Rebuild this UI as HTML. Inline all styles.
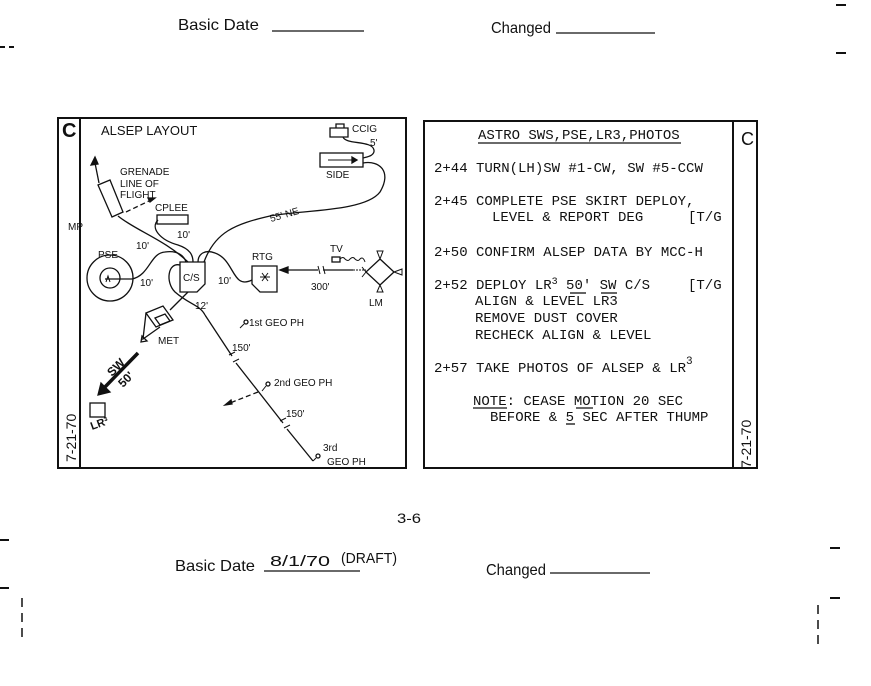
<!DOCTYPE html>
<html><head><meta charset="utf-8"><style>
html,body{margin:0;padding:0;background:#fff;}
svg{display:block}
.s{font-family:"Liberation Sans",sans-serif;fill:#111}
.m{font-family:"Liberation Mono",monospace;fill:#111;font-size:14px}
.n{font-family:"Liberation Sans",sans-serif;fill:#111}
</style></head><body>
<svg width="871" height="686" viewBox="0 0 871 686" xmlns="http://www.w3.org/2000/svg">
<g stroke="#111" fill="none" stroke-width="1.3">
<line x1="272" y1="31" x2="364" y2="31"/>
<line x1="556" y1="33" x2="655" y2="33"/>
<line x1="0" y1="47" x2="16" y2="47" stroke-width="2" stroke-dasharray="5 4"/>
<line x1="836" y1="53" x2="846" y2="53" stroke-width="2"/>
<line x1="836" y1="5" x2="846" y2="5" stroke-width="2"/>
<line x1="264" y1="571" x2="360" y2="571"/>
<line x1="550" y1="573" x2="650" y2="573"/>
<line x1="0" y1="540" x2="9" y2="540" stroke-width="2"/>
<line x1="0" y1="588" x2="9" y2="588" stroke-width="2"/>
<line x1="22" y1="598" x2="22" y2="640" stroke-width="1.5" stroke-dasharray="9 6"/>
<line x1="830" y1="548" x2="840" y2="548" stroke-width="2"/>
<line x1="830" y1="598" x2="840" y2="598" stroke-width="2"/>
<line x1="818" y1="605" x2="818" y2="648" stroke-width="1.5" stroke-dasharray="9 6"/>

<rect x="58" y="118" width="348" height="350" stroke-width="2"/>
<line x1="80" y1="118" x2="80" y2="468" stroke-width="2"/>
<rect x="424" y="121" width="333" height="347" stroke-width="2"/>
<line x1="733" y1="121" x2="733" y2="468" stroke-width="2"/>

<path d="M332 128h16v9h-18v-9h2zm4 0v-4h8v4"/>
<path d="M343 137 C346 145,372 140,374 150 C375 156,366 157,363 158"/>
<rect x="320" y="153" width="43" height="14"/>
<path d="M328 160h24" stroke-width="1"/><path d="M352 157l5 3-5 3z" fill="#111"/>
<path d="M363 163 C380 160,392 172,380 192 C365 212,300 210,270 216 C235 224,215 232,204 262"/>
<path d="M180 262h25v22l-8 8h-17z"/>
<path d="M98 185l12-5 13 32-11 5z"/>
<path d="M99 183l-4-20"/><path d="M95 157l-4 8 7-1z" fill="#111"/>
<path d="M126 212l25-12" stroke-dasharray="5 3"/><path d="M155 198l-7 0 2 4z" fill="#111"/>
<path d="M118 216 C135 230,165 240,188 262"/>
<rect x="157" y="215" width="31" height="9"/>
<path d="M158 220 C150 228,160 240,178 245 C190 249,193 255,193 262"/>
<circle cx="110" cy="278" r="23"/><circle cx="110" cy="278" r="10"/>
<path d="M105 279h27"/><path d="M106 282l2-6 2 6" stroke-width="1"/>
<path d="M132 279 C150 275,150 253,165 252 C178 250,184 256,186 262"/>
<path d="M198 262 C198 254,205 249,215 253 C235 260,232 290,252 280"/>
<path d="M180 265 C168 262,165 282,175 292 C190 305,200 305,205 315"/>
<path d="M252 266h25v26h-17l-8-8z"/>
<path d="M262 273l6 8m0-8l-6 8m-2-4h10" stroke-width="1"/>
<path d="M280 270h38m5 0h30" />
<path d="M318 266l2 8m3-8l2 8" stroke-width="1"/>
<path d="M280 270l8-3v6z" fill="#111"/>
<path d="M380 259l14 13-14 13-14-13z"/>
<path d="M380 259l-3-8h6z M394 272l8-3v6z M380 285l-3 7h6z" stroke-width="1"/>
<path d="M366 272l-4-5m4 5l-4 5" stroke-width="1"/>
<path d="M353 270h13" stroke-dasharray="2 1" stroke-width="1"/>
<rect x="332" y="257" width="8" height="5"/>
<path d="M340 259 q3-3 5 0 q3 3 5 0 q3-3 5 0 q3 3 5 0 q3-3 5 3" stroke-width="1"/>
<path d="M188 292 L170 310"/>
<path d="M146 313l17-7 10 14-17 7z"/>
<path d="M155 318l10-4 5 7-10 4z"/>
<path d="M146 313l-3 26 17-12"/>
<path d="M142 336l5 5-6 1z"/>
<path d="M138 353L104 388" stroke-width="3.5"/>
<path d="M98 395l3-12 9 9z" fill="#111"/>
<rect x="90" y="403" width="15" height="14"/>
<path d="M205 315 L232 356" />
<path d="M236 363 L283 423"/>
<path d="M287 429 L313 461"/>
<path d="M229 355l6-3m-2 10l6-3 M280 421l6-3m-2 10l6-3" stroke-width="1"/>
<circle cx="246" cy="322" r="2" /><path d="M244 324l-4 4" stroke-width="1"/>
<circle cx="268" cy="384" r="2"/><path d="M266 386l-4 5" stroke-width="1"/>
<circle cx="318" cy="456" r="2"/><path d="M316 458l-3 3" stroke-width="1"/>
<path d="M258 392L230 403" stroke-dasharray="5 3"/><path d="M225 405l6-5 1 4z" fill="#111"/>

<line x1="478" y1="143" x2="681" y2="143"/>
<line x1="570" y1="293" x2="586" y2="293"/><line x1="601" y1="293" x2="617" y2="293"/>
<line x1="473" y1="408" x2="507" y2="408"/><line x1="576" y1="408" x2="593" y2="408"/>
<line x1="566" y1="424" x2="575" y2="424"/>
</g>

<text class="n" x="178" y="30" font-size="16" textLength="81" lengthAdjust="spacingAndGlyphs">Basic Date</text>
<text class="n" x="491" y="33" font-size="16" textLength="60" lengthAdjust="spacingAndGlyphs">Changed</text>
<text class="n" x="397" y="523" font-size="14" textLength="24" lengthAdjust="spacingAndGlyphs">3-6</text>
<text class="n" x="175" y="571" font-size="16" textLength="80" lengthAdjust="spacingAndGlyphs">Basic Date</text>
<text class="n" x="270" y="566" font-size="15" textLength="60" lengthAdjust="spacingAndGlyphs">8/1/70</text>
<text class="n" x="341" y="563" font-size="15" textLength="56" lengthAdjust="spacingAndGlyphs">(DRAFT)</text>
<text class="n" x="486" y="575" font-size="16" textLength="60" lengthAdjust="spacingAndGlyphs">Changed</text>

<text class="s" x="62" y="137" font-size="20" font-weight="bold">C</text>
<text class="s" x="101" y="135" font-size="13">ALSEP LAYOUT</text>
<text class="s" x="352" y="132" font-size="10">CCIG</text>
<text class="s" x="370" y="146" font-size="10">5'</text>
<text class="s" x="326" y="178" font-size="10">SIDE</text>
<text class="s" x="120" y="175" font-size="10">GRENADE</text>
<text class="s" x="120" y="187" font-size="10">LINE OF</text>
<text class="s" x="120" y="198" font-size="10">FLIGHT</text>
<text class="s" x="155" y="211" font-size="10">CPLEE</text>
<text class="s" x="68" y="230" font-size="10">MP</text>
<text class="s" x="177" y="238" font-size="10">10'</text>
<text class="s" x="136" y="249" font-size="10">10'</text>
<text class="s" x="98" y="258" font-size="10">PSE</text>
<text class="s" x="140" y="286" font-size="10">10'</text>
<text class="s" x="183" y="281" font-size="10">C/S</text>
<text class="s" x="218" y="284" font-size="10">10'</text>
<text class="s" x="252" y="260" font-size="10">RTG</text>
<text class="s" x="330" y="252" font-size="10">TV</text>
<text class="s" x="311" y="290" font-size="10">300'</text>
<text class="s" x="369" y="306" font-size="10">LM</text>
<text class="s" x="271" y="222" font-size="10" transform="rotate(-16 271 222)">55' NE</text>
<text class="s" x="195" y="309" font-size="10">12'</text>
<text class="s" x="249" y="326" font-size="10">1st GEO PH</text>
<text class="s" x="158" y="344" font-size="10">MET</text>
<text class="s" x="232" y="351" font-size="10">150'</text>
<text class="s" x="274" y="386" font-size="10">2nd GEO PH</text>
<text class="s" x="286" y="417" font-size="10">150'</text>
<text class="s" x="323" y="451" font-size="10">3rd</text>
<text class="s" x="327" y="465" font-size="10">GEO PH</text>
<text class="s" x="112" y="377" font-size="12" font-weight="bold" transform="rotate(-45 112 377)">SW</text>
<text class="s" x="123" y="388" font-size="12" font-weight="bold" transform="rotate(-45 123 388)">50'</text>
<text class="s" x="92" y="430" font-size="11" font-weight="bold" transform="rotate(-20 92 430)">LR³</text>
<text class="s" x="76" y="462" font-size="14" transform="rotate(-90 76 462)">7-21-70</text>

<text class="m" x="478" y="139" font-size="14">ASTRO SWS,PSE,LR3,PHOTOS</text>
<text class="s" x="741" y="145" font-size="18">C</text>
<text class="m" x="434" y="172">2+44 TURN(LH)SW #1-CW, SW #5-CCW</text>
<text class="m" x="434" y="205">2+45 COMPLETE PSE SKIRT DEPLOY,</text>
<text class="m" x="492" y="221">LEVEL &amp; REPORT DEG</text>
<text class="m" x="688" y="221">[T/G</text>
<text class="m" x="434" y="289">2+52 DEPLOY LR<tspan font-size="10" dy="-5">3</tspan><tspan dy="5"> 50' SW C/S</tspan></text>
<text class="m" x="434" y="256">2+50 CONFIRM ALSEP DATA BY MCC-H</text>
<text class="m" x="688" y="289">[T/G</text>
<text class="m" x="475" y="305">ALIGN &amp; LEVEL LR3</text>
<text class="m" x="475" y="322">REMOVE DUST COVER</text>
<text class="m" x="475" y="339">RECHECK ALIGN &amp; LEVEL</text>
<text class="m" x="434" y="372">2+57 TAKE PHOTOS OF ALSEP &amp; LR<tspan font-size="11" dy="-8">3</tspan></text>
<text class="m" x="473" y="405">NOTE: CEASE MOTION 20 SEC</text>
<text class="m" x="490" y="421">BEFORE &amp; 5 SEC AFTER THUMP</text>
<text class="s" x="751" y="468" font-size="14" transform="rotate(-90 751 468)">7-21-70</text>
</svg>
</body></html>
